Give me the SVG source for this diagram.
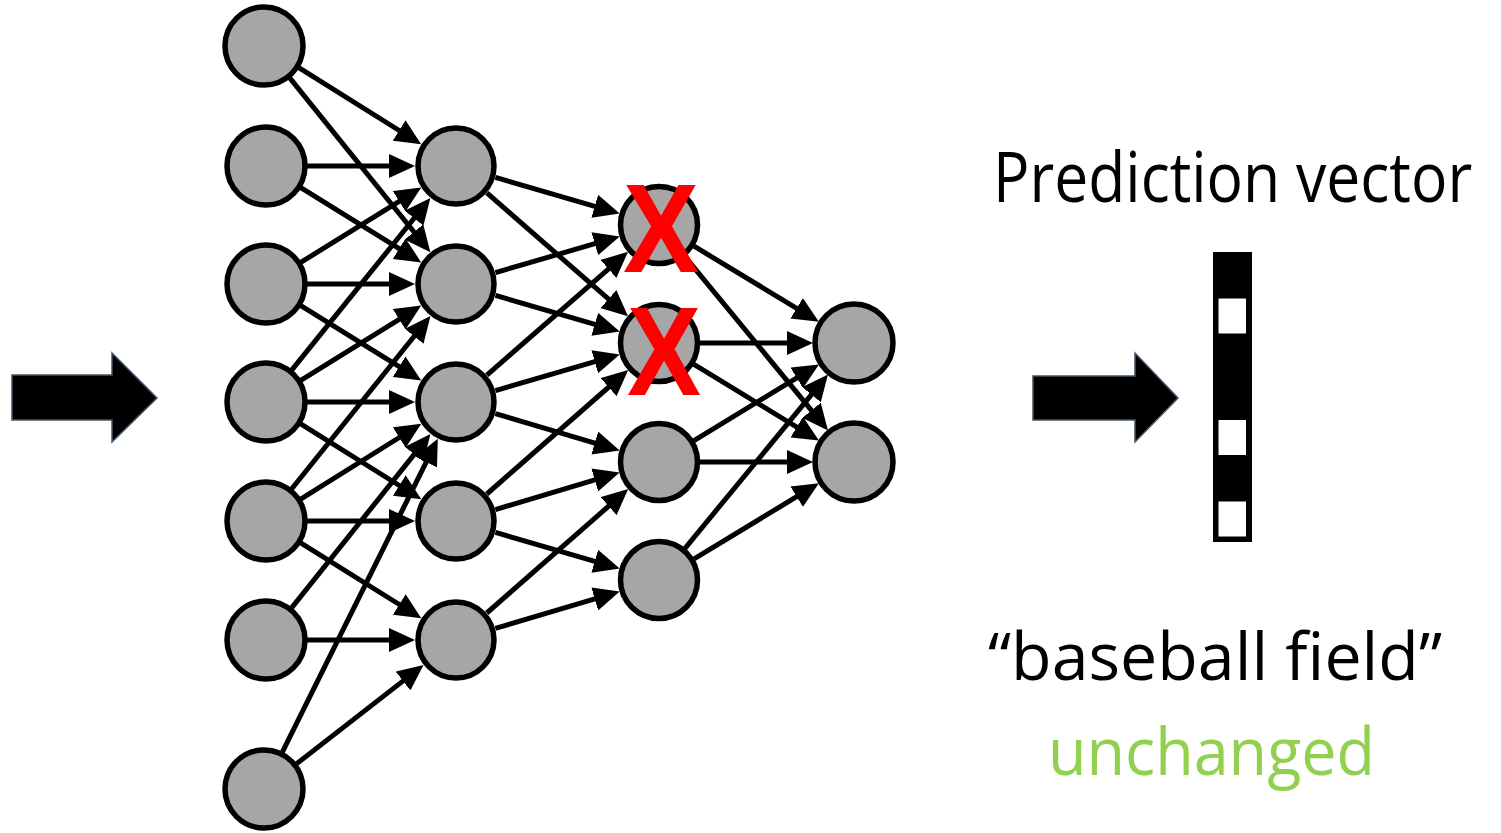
<svg xmlns="http://www.w3.org/2000/svg" width="1501" height="833" viewBox="0 0 1501 833">
<style>
.node{fill:#a6a6a6;stroke:#000;stroke-width:5.5}
.edge{stroke:#000;stroke-width:5;fill:none;marker-end:url(#ah)}
.big{fill:#000;stroke:#44546a;stroke-width:1.5}
.x{font-family:"Liberation Sans",Arial,sans-serif;font-weight:bold;font-size:126px;fill:#ff0000}
.lbl{font-family:"Open Sans","Liberation Sans",sans-serif;font-size:66px;fill:#000}
</style>
<defs>
<marker id="ah" markerUnits="userSpaceOnUse" viewBox="0 -12 26 24" markerWidth="26" markerHeight="24" refX="1" refY="0" orient="auto">
<path d="M0,-12 L26,0 L0,12 z" fill="#000"/>
</marker>
</defs>
<rect width="1501" height="833" fill="#fff"/>
<g id="connectors">
<line class="edge" x1="298.8" y1="67.7" x2="400.0" y2="131.0"/>
<line class="edge" x1="289.7" y1="77.9" x2="414.6" y2="232.7"/>
<line class="edge" x1="307" y1="166" x2="390" y2="166"/>
<line class="edge" x1="300.8" y1="187.6" x2="400.0" y2="249.2"/>
<line class="edge" x1="300.8" y1="262.4" x2="400.0" y2="200.8"/>
<line class="edge" x1="307" y1="284" x2="390" y2="284"/>
<line class="edge" x1="300.8" y1="305.6" x2="400.0" y2="367.2"/>
<line class="edge" x1="291.7" y1="370.1" x2="414.7" y2="217.5"/>
<line class="edge" x1="300.8" y1="380.4" x2="400.0" y2="318.8"/>
<line class="edge" x1="307" y1="402" x2="390" y2="402"/>
<line class="edge" x1="300.7" y1="423.8" x2="400.1" y2="486.0"/>
<line class="edge" x1="291.6" y1="489.0" x2="414.8" y2="335.5"/>
<line class="edge" x1="300.7" y1="499.2" x2="400.1" y2="437.0"/>
<line class="edge" x1="307" y1="521" x2="390" y2="521"/>
<line class="edge" x1="300.7" y1="542.8" x2="400.1" y2="605.0"/>
<line class="edge" x1="291.6" y1="607.9" x2="414.8" y2="453.6"/>
<line class="edge" x1="307" y1="640" x2="390" y2="640"/>
<line class="edge" x1="282.2" y1="752.3" x2="426.7" y2="461.1"/>
<line class="edge" x1="296.4" y1="763.9" x2="403.8" y2="680.4"/>
<line class="edge" x1="495.4" y1="177.4" x2="595.7" y2="206.6"/>
<line class="edge" x1="486.9" y1="192.9" x2="609.2" y2="299.7"/>
<line class="edge" x1="495.4" y1="272.6" x2="595.7" y2="243.4"/>
<line class="edge" x1="495.4" y1="295.4" x2="595.7" y2="324.6"/>
<line class="edge" x1="486.9" y1="375.1" x2="609.2" y2="268.3"/>
<line class="edge" x1="495.4" y1="390.6" x2="595.7" y2="361.4"/>
<line class="edge" x1="495.3" y1="413.6" x2="595.7" y2="443.3"/>
<line class="edge" x1="486.8" y1="494.0" x2="609.4" y2="386.5"/>
<line class="edge" x1="495.4" y1="509.6" x2="595.7" y2="479.6"/>
<line class="edge" x1="495.4" y1="532.4" x2="595.7" y2="561.6"/>
<line class="edge" x1="486.8" y1="613.0" x2="609.4" y2="505.5"/>
<line class="edge" x1="495.3" y1="628.4" x2="595.7" y2="598.7"/>
<line class="edge" x1="694.1" y1="246.2" x2="797.5" y2="308.8"/>
<line class="edge" x1="685.0" y1="256.7" x2="812.1" y2="411.1"/>
<line class="edge" x1="700" y1="343" x2="788" y2="343"/>
<line class="edge" x1="694.0" y1="364.4" x2="797.6" y2="427.6"/>
<line class="edge" x1="694.0" y1="440.6" x2="797.6" y2="377.4"/>
<line class="edge" x1="700" y1="462" x2="788" y2="462"/>
<line class="edge" x1="685.0" y1="548.3" x2="812.1" y2="393.9"/>
<line class="edge" x1="694.1" y1="558.8" x2="797.5" y2="496.2"/>
</g>
<g id="input-arrow"><polygon class="big" points="12,375 112,375 112,353 157,398 112,442 112,420 12,420"/></g>
<g id="output-arrow"><polygon class="big" points="1033,376 1135,376 1135,353 1178,398 1135,442 1135,420 1033,420"/></g>
<g id="a1"><circle class="node" cx="264" cy="46" r="39"/></g>
<g id="a2"><circle class="node" cx="266" cy="166" r="39"/></g>
<g id="a3"><circle class="node" cx="266" cy="284" r="39"/></g>
<g id="a4"><circle class="node" cx="266" cy="402" r="39"/></g>
<g id="a5"><circle class="node" cx="266" cy="521" r="39"/></g>
<g id="a6"><circle class="node" cx="266" cy="640" r="39"/></g>
<g id="a7"><circle class="node" cx="264" cy="789" r="39"/></g>
<g id="b1"><circle class="node" cx="456" cy="166" r="38"/></g>
<g id="b2"><circle class="node" cx="456" cy="284" r="38"/></g>
<g id="b3"><circle class="node" cx="456" cy="402" r="38"/></g>
<g id="b4"><circle class="node" cx="456" cy="521" r="38"/></g>
<g id="b5"><circle class="node" cx="456" cy="640" r="38"/></g>
<g id="c1"><circle class="node" cx="659" cy="225" r="38.5"/><text class="x" x="623" y="272" textLength="76" lengthAdjust="spacingAndGlyphs">X</text></g>
<g id="c2"><circle class="node" cx="659" cy="343" r="38.5"/><text class="x" x="627" y="395" textLength="74" lengthAdjust="spacingAndGlyphs">X</text></g>
<g id="c3"><circle class="node" cx="659" cy="462" r="38.5"/></g>
<g id="c4"><circle class="node" cx="659" cy="580" r="38.5"/></g>
<g id="d1"><circle class="node" cx="854" cy="343" r="39"/></g>
<g id="d2"><circle class="node" cx="854" cy="462" r="39"/></g>
<g id="prediction-vector">
<rect x="1213" y="252" width="39" height="290" fill="#000"/>
<rect x="1218.5" y="298.5" width="27.5" height="35" fill="#fff"/>
<rect x="1218.5" y="420" width="27.5" height="35" fill="#fff"/>
<rect x="1218.5" y="501.5" width="27.5" height="35" fill="#fff"/>
</g>
<g id="labels">
<text class="lbl" transform="translate(993,202) scale(0.866,1)" style="font-size:70px">Prediction vector</text>
<text class="lbl" x="988" y="680" textLength="454" lengthAdjust="spacingAndGlyphs">“baseball field”</text>
<text class="lbl" x="1048" y="775" style="fill:#92d050" textLength="327" lengthAdjust="spacingAndGlyphs">unchanged</text>
</g>
</svg>
